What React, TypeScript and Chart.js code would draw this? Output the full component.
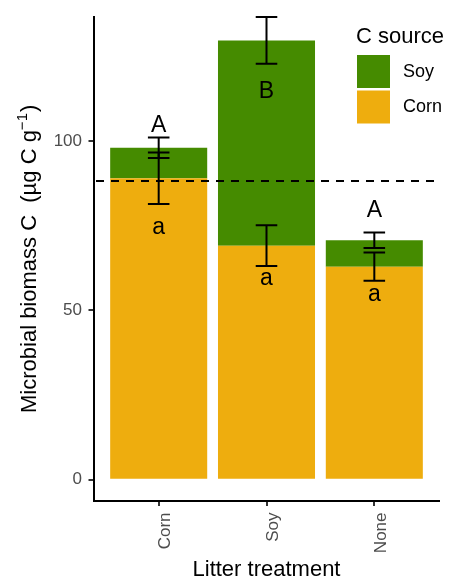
import React, { useEffect, useRef } from "react";
import { Chart, registerables } from "chart.js";

Chart.register(...registerables);

// ---- data ----
const categories = ["Corn", "Soy", "None"];
const categoryIndex = [1, 2, 3];
const cornCarbon = [89.0, 69.1, 62.9];
const soyCarbon = [9.0, 60.6, 7.8];
const cornCarbonSE = [7.6, 6.0, 4.2];
const totalCarbonSE = [3.0, 6.9, 2.3];
const upperLetters = ["A", "B", "A"];
const upperLetterValues = [102.7, 112.6, 77.7];
const lowerLetters = ["a", "a", "a"];
const lowerLetterValues = [72.4, 57.6, 52.7];
const controlLine = 88.2;
const yTickValues = [0, 50, 100];
const legendItems = ["Soy", "Corn"];

const CORN = "#EEAD0E";
const SOY = "#458B00";
const FAMILY = '"Liberation Sans", Arial, Helvetica, sans-serif';

const overlayPlugin = {
  id: "overlay",
  afterDatasetsDraw(chart: any) {
    const { ctx, chartArea } = chart;
    const x = chart.scales.x;
    const y = chart.scales.y;
    ctx.save();
    // dashed reference line
    ctx.strokeStyle = "#000";
    ctx.lineWidth = 2;
    ctx.setLineDash([8, 7]);
    const yr = y.getPixelForValue(controlLine);
    ctx.beginPath();
    ctx.moveTo(chartArea.left + 2, yr);
    ctx.lineTo(chartArea.right, yr);
    ctx.stroke();
    ctx.setLineDash([]);

    const drawErr = (xv: number, center: number, err: number) => {
      const px = x.getPixelForValue(xv);
      const x0 = x.getPixelForValue(xv - 0.1);
      const x1 = x.getPixelForValue(xv + 0.1);
      const yt = y.getPixelForValue(center + err);
      const yb = y.getPixelForValue(center - err);
      ctx.beginPath();
      ctx.moveTo(px, yt);
      ctx.lineTo(px, yb);
      ctx.moveTo(x0, yt);
      ctx.lineTo(x1, yt);
      ctx.moveTo(x0, yb);
      ctx.lineTo(x1, yb);
      ctx.stroke();
    };
    ctx.strokeStyle = "#000";
    ctx.lineWidth = 2;
    categoryIndex.forEach((xv, i) => {
      drawErr(xv, cornCarbon[i], cornCarbonSE[i]);
      drawErr(xv, cornCarbon[i] + soyCarbon[i], totalCarbonSE[i]);
    });

    // letters
    ctx.fillStyle = "#000";
    ctx.font = `23px ${FAMILY}`;
    ctx.textAlign = "center";
    ctx.textBaseline = "alphabetic";
    categoryIndex.forEach((xv, i) => {
      const px = x.getPixelForValue(xv);
      ctx.fillText(upperLetters[i], px, y.getPixelForValue(upperLetterValues[i]));
      ctx.fillText(lowerLetters[i], px, y.getPixelForValue(lowerLetterValues[i]));
    });
    ctx.restore();
  },
  afterDraw(chart: any) {
    const { ctx, chartArea } = chart;
    ctx.save();
    ctx.fillStyle = "#000";
    // x title
    ctx.font = `22px ${FAMILY}`;
    ctx.textAlign = "center";
    ctx.textBaseline = "alphabetic";
    ctx.fillText("Litter treatment", (chartArea.left + chartArea.right) / 2, 576);

    // y title with superscript
    const cy = (chartArea.top + chartArea.bottom) / 2;
    ctx.translate(36, cy);
    ctx.rotate(-Math.PI / 2);
    const mainText = "Microbial biomass C  (\u00B5g C g";
    const supText = "\u22121";
    const endText = ")";
    ctx.font = `22px ${FAMILY}`;
    const w1 = ctx.measureText(mainText).width;
    const w3 = ctx.measureText(endText).width;
    ctx.font = `15px ${FAMILY}`;
    const w2 = ctx.measureText(supText).width;
    const total = w1 + w2 + w3 + 1;
    let sx = -total / 2;
    ctx.textAlign = "left";
    ctx.font = `22px ${FAMILY}`;
    ctx.fillText(mainText, sx, 0);
    sx += w1;
    ctx.font = `15px ${FAMILY}`;
    ctx.fillText(supText, sx, -9);
    sx += w2 + 1;
    ctx.font = `22px ${FAMILY}`;
    ctx.fillText(endText, sx, 0);
    ctx.setTransform(1, 0, 0, 1, 0, 0);

    // legend
    ctx.textAlign = "left";
    ctx.font = `22px ${FAMILY}`;
    ctx.fillText("C source", 356, 42.5);
    const colors: Record<string, string> = { Soy: SOY, Corn: CORN };
    legendItems.forEach((name, i) => {
      const top = 55 + i * 35.5;
      ctx.fillStyle = colors[name];
      ctx.fillRect(357, top, 33, 33);
      ctx.fillStyle = "#000";
      ctx.font = `18px ${FAMILY}`;
      ctx.textBaseline = "middle";
      ctx.fillText(name, 403, top + 17);
    });
    ctx.restore();
  },
};

export default function App() {
  const ref = useRef<HTMLCanvasElement | null>(null);
  useEffect(() => {
    document.body.style.margin = "0";
    const canvas = ref.current;
    if (!canvas) return;
    const tickFont = { family: FAMILY, size: 17 };
    const chart = new Chart(canvas, {
      type: "bar",
      data: {
        datasets: [
          {
            label: "Corn",
            data: categoryIndex.map((xv, i) => ({ x: xv, y: cornCarbon[i] })),
            backgroundColor: CORN,
            borderWidth: 0,
            barPercentage: 0.9,
            categoryPercentage: 1,
          },
          {
            label: "Soy",
            data: categoryIndex.map((xv, i) => ({ x: xv, y: soyCarbon[i] })),
            backgroundColor: SOY,
            borderWidth: 0,
            barPercentage: 0.9,
            categoryPercentage: 1,
          },
        ],
      } as any,
      options: {
        responsive: false,
        animation: false,
        devicePixelRatio: 1,
        layout: { padding: { top: 10, right: 12, left: 0, bottom: 0 } },
        plugins: {
          legend: { display: false },
          tooltip: { enabled: false },
          title: { display: false },
        },
        scales: {
          x: {
            type: "linear",
            min: 0.4,
            max: 3.6,
            offset: false,
            stacked: true,
            afterBuildTicks: (s: any) => {
              s.ticks = categoryIndex.map((v) => ({ value: v }));
            },
            afterFit: (s: any) => {
              s.height = 79;
            },
            border: { display: true, color: "#000", width: 2 },
            grid: {
              display: true,
              offset: false,
              drawOnChartArea: false,
              drawTicks: true,
              tickLength: 5,
              color: "#333",
              lineWidth: 2,
            },
            ticks: {
              minRotation: 90,
              maxRotation: 90,
              autoSkip: false,
              padding: 6.5,
              labelOffset: 6.5,
              color: "#4D4D4D",
              font: tickFont,
              callback: (v: any) => categories[categoryIndex.indexOf(Number(v))] ?? "",
            },
          },
          y: {
            type: "linear",
            min: -6.3,
            max: 136.7,
            stacked: true,
            afterBuildTicks: (s: any) => {
              s.ticks = yTickValues.map((v) => ({ value: v }));
            },
            afterFit: (s: any) => {
              s.width = 94;
            },
            border: { display: true, color: "#000", width: 2 },
            grid: {
              display: true,
              drawOnChartArea: false,
              drawTicks: true,
              tickLength: 5.5,
              color: "#333",
              lineWidth: 2,
            },
            ticks: {
              padding: 6.5,
              color: "#4D4D4D",
              font: tickFont,
              callback: (v: any) => String(v),
            },
          },
        },
      } as any,
      plugins: [overlayPlugin],
    });
    return () => chart.destroy();
  }, []);
  return <canvas ref={ref} width={451} height={580} style={{ display: "block" }} />;
}
